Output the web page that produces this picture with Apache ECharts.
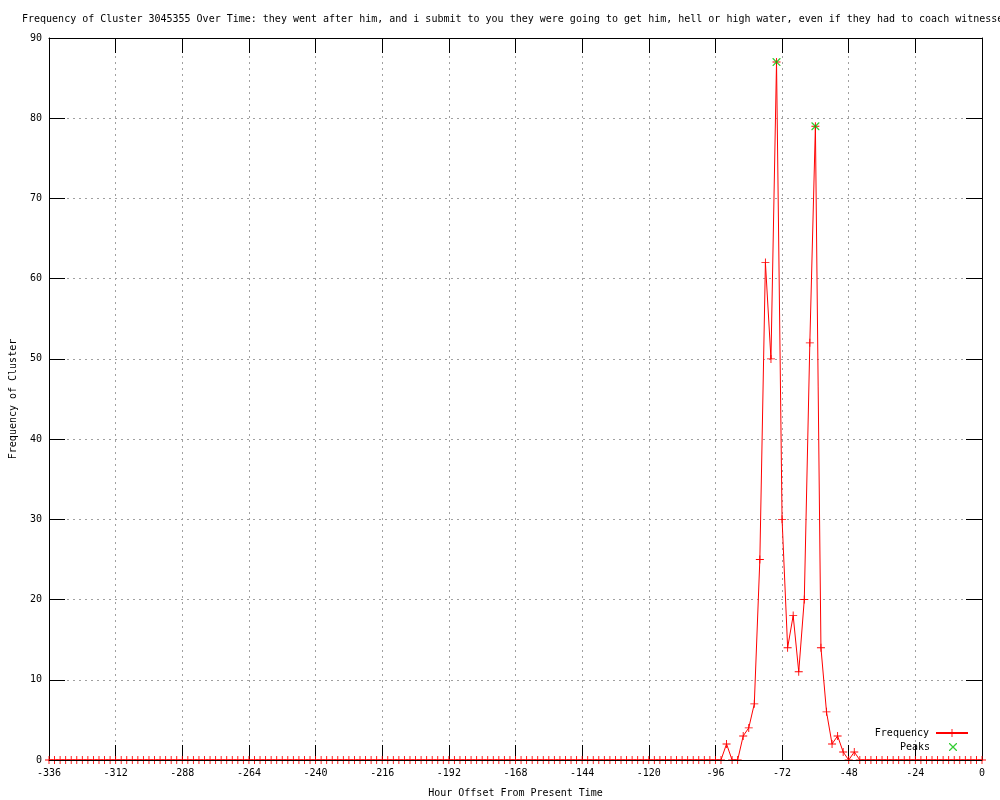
<!DOCTYPE html>
<html>
<head>
<meta charset="utf-8">
<script src="https://cdn.jsdelivr.net/npm/echarts@6/dist/echarts.min.js"></script>
<style>
  html, body { margin: 0; padding: 0; background: #fff; }
  #chart { width: 1000px; height: 800px; }
</style>
</head>
<body>
<div id="chart"></div>
<script>
  // hours from -336 to 0, one point every 2 hours
  const hourStart = -336
  const hourStep = 2
  const frequency = [
    0, 0, 0, 0, 0, 0, 0, 0, 0, 0, 0, 0, 0, 0, 0, 0, 0, 0, 0, 0,
    0, 0, 0, 0, 0, 0, 0, 0, 0, 0, 0, 0, 0, 0, 0, 0, 0, 0, 0, 0,
    0, 0, 0, 0, 0, 0, 0, 0, 0, 0, 0, 0, 0, 0, 0, 0, 0, 0, 0, 0,
    0, 0, 0, 0, 0, 0, 0, 0, 0, 0, 0, 0, 0, 0, 0, 0, 0, 0, 0, 0,
    0, 0, 0, 0, 0, 0, 0, 0, 0, 0, 0, 0, 0, 0, 0, 0, 0, 0, 0, 0,
    0, 0, 0, 0, 0, 0, 0, 0, 0, 0, 0, 0, 0, 0, 0, 0, 0, 0, 0, 0,
    0, 0,
    // -92 .. -46
    2, 0, 0, 3, 4, 7, 25, 62, 50, 87, 30, 14, 18, 11, 20, 52, 79, 14, 6, 2, 3, 1, 0, 1,
    // -44 .. 0
    0, 0, 0, 0, 0, 0, 0, 0, 0, 0, 0, 0, 0, 0, 0, 0, 0, 0, 0, 0, 0, 0, 0
  ]
  const peakHours = [-74, -60]
  const peakValues = [87, 79]

  const hours = frequency.map((v, i) => hourStart + i * hourStep)
  const freqData = frequency.map((v, i) => [hours[i], v])
  const peakData = peakHours.map((h, i) => [h, peakValues[i]])

  const titleText = 'Frequency of Cluster 3045355 Over Time: they went after him, and i submit to you they were going to get him, hell or high water, even if they had to coach witnesse'

  const font = 'DejaVu Sans Mono'
  const plusSymbol = 'path://M0,4H9V5H0Z M4,0H5V9H4Z'
  const crossSymbol = 'path://M0,0L1,0L9,8L9,9L8,9L0,1Z M8,0L9,0L9,1L1,9L0,9L0,8Z'

  const chart = echarts.init(document.getElementById('chart'), null, { renderer: 'canvas' })
  chart.setOption({
    animation: false,
    backgroundColor: '#fff',
    textStyle: { fontFamily: font, fontSize: 10, color: '#000' },
    title: {
      text: titleText,
      left: 22,
      top: 14,
      padding: 0,
      textStyle: { fontFamily: font, fontSize: 10, fontWeight: 'normal', color: '#000' }
    },
    legend: [{
      data: ['Frequency'],
      right: 31,
      top: 728,
      padding: 0,
      align: 'right',
      itemWidth: 32,
      itemHeight: 10,
      textStyle: { fontFamily: font, fontSize: 10, color: '#000', padding: [0, 2, 0, 0] }
    }, {
      data: [{ name: 'Peaks', icon: crossSymbol }],
      right: 43,
      top: 742,
      padding: 0,
      align: 'right',
      itemWidth: 8,
      itemHeight: 8,
      textStyle: { fontFamily: font, fontSize: 10, color: '#000', padding: [0, 14, 0, 0] }
    }],
    grid: { left: 49, right: 18, top: 38, bottom: 40, outerBoundsMode: 'none' },
    xAxis: [{
      type: 'value',
      position: 'bottom',
      min: -336,
      max: 0,
      interval: 24,
      name: 'Hour Offset From Present Time',
      nameLocation: 'middle',
      nameGap: 28,
      nameTextStyle: { fontFamily: font, fontSize: 10, color: '#000' },
      axisLine: { onZero: false, lineStyle: { color: '#000', width: 1 } },
      axisTick: { inside: true, length: 15, lineStyle: { color: '#000' } },
      axisLabel: { margin: 8, color: '#000', fontFamily: font, fontSize: 10 },
      splitLine: { show: true, lineStyle: { color: '#a0a0a0', type: [2, 4], width: 1 } }
    }, {
      type: 'value',
      position: 'top',
      min: -336,
      max: 0,
      interval: 24,
      axisLine: { onZero: false, lineStyle: { color: '#000', width: 1 } },
      axisTick: { inside: true, length: 15, lineStyle: { color: '#000' } },
      axisLabel: { show: false },
      splitLine: { show: false }
    }],
    yAxis: [{
      type: 'value',
      position: 'left',
      min: 0,
      max: 90,
      interval: 10,
      name: 'Frequency of Cluster',
      nameLocation: 'middle',
      nameGap: 31,
      nameTextStyle: { fontFamily: font, fontSize: 10, color: '#000' },
      axisLine: { show: true, onZero: false, lineStyle: { color: '#000', width: 1 } },
      axisTick: { show: true, inside: true, length: 16, lineStyle: { color: '#000' } },
      axisLabel: { margin: 7, color: '#000', fontFamily: font, fontSize: 10 },
      splitLine: { show: true, lineStyle: { color: '#a0a0a0', type: [2, 4], width: 1 } }
    }, {
      type: 'value',
      position: 'right',
      min: 0,
      max: 90,
      interval: 10,
      axisLine: { show: true, onZero: false, lineStyle: { color: '#000', width: 1 } },
      axisTick: { show: true, inside: true, length: 16, lineStyle: { color: '#000' } },
      axisLabel: { show: false },
      splitLine: { show: false }
    }],
    series: [{
      name: 'Frequency',
      type: 'line',
      z: 2,
      data: freqData,
      symbol: plusSymbol,
      symbolSize: 8,
      showAllSymbol: true,
      lineStyle: { color: '#ff0000', width: 1 },
      itemStyle: { color: '#ff0000' },
      emphasis: { disabled: true }
    }, {
      name: 'Peaks',
      type: 'scatter',
      z: 3,
      data: peakData,
      symbol: crossSymbol,
      symbolSize: 8,
      itemStyle: { color: '#00c000' },
      emphasis: { disabled: true },
      // border line at y = 0 drawn above the frequency line, as in the original
      markLine: {
        silent: true,
        symbol: 'none',
        label: { show: false },
        lineStyle: { color: '#000', width: 1, type: 'solid' },
        emphasis: { disabled: true },
        data: [{ yAxis: 0 }]
      }
    }]
  })
</script>
</body>
</html>
